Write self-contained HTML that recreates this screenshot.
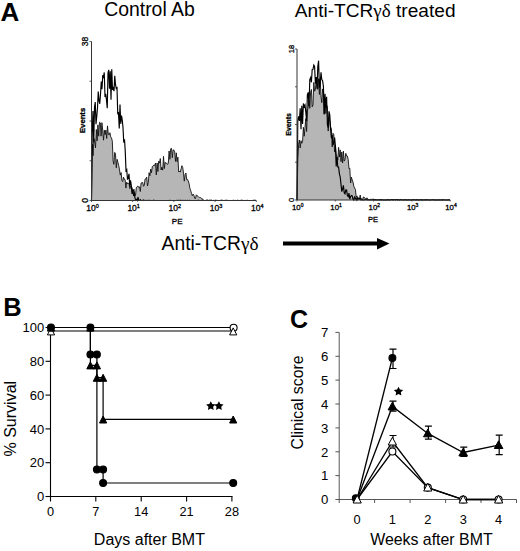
<!DOCTYPE html>
<html><head><meta charset="utf-8"><style>
html,body{margin:0;padding:0;background:#fff;}
svg{display:block;}
text{font-family:'Liberation Sans',sans-serif;fill:#000;}
.sm{stroke:#000;stroke-width:0.3px;}
</style></head><body>
<svg width="520" height="551" viewBox="0 0 520 551">

<text x="0.5" y="20.8" font-size="26" font-weight="bold">A</text>
<text x="3.3" y="315.9" font-size="25.5" font-weight="bold">B</text>
<text x="290" y="328.2" font-size="25" font-weight="bold">C</text>
<text x="104.2" y="15.9" font-size="19.4">Control Ab</text>
<text x="294.8" y="16.9" font-size="19.1">Anti-TCR<tspan font-family="Liberation Serif">γδ</tspan> treated</text>
<path d="M91.50,200.50 L91.50,200.16 L92.30,144.25 L93.10,155.60 L93.90,138.36 L94.70,141.13 L95.50,147.85 L96.30,129.45 L97.10,140.89 L97.90,124.86 L98.70,136.20 L99.50,122.19 L100.30,122.82 L101.10,136.14 L101.90,122.66 L102.70,130.16 L103.50,140.19 L104.30,130.20 L105.10,134.66 L105.90,130.07 L106.70,138.52 L107.50,125.87 L108.30,134.32 L109.10,134.97 L109.90,132.73 L110.70,136.90 L111.50,137.92 L112.30,141.14 L113.10,160.90 L113.90,164.32 L114.70,152.40 L115.50,154.10 L116.30,167.80 L117.10,159.33 L117.90,162.34 L118.70,165.45 L119.50,169.87 L120.30,175.14 L121.10,172.57 L121.90,180.35 L122.70,181.56 L123.50,177.12 L124.30,179.43 L125.10,179.64 L125.90,188.08 L126.70,182.20 L127.50,183.74 L128.30,182.92 L129.10,184.00 L129.90,188.74 L130.70,185.98 L131.50,186.60 L132.30,188.43 L133.10,191.83 L133.90,189.17 L134.70,193.78 L135.50,195.50 L136.30,187.80 L137.10,186.69 L137.90,185.96 L138.70,187.47 L139.50,186.86 L140.30,191.52 L141.10,182.98 L141.90,182.69 L142.70,182.36 L143.50,186.25 L144.30,185.12 L145.10,179.01 L145.90,178.94 L146.70,177.09 L147.50,185.98 L148.30,182.46 L149.10,172.68 L149.90,175.82 L150.70,169.00 L151.50,172.80 L152.30,166.59 L153.10,166.17 L153.90,165.00 L154.70,165.50 L155.50,163.08 L156.30,174.91 L157.10,162.98 L157.90,171.50 L158.70,161.17 L159.50,163.15 L160.30,158.57 L161.10,170.01 L161.90,167.10 L162.70,170.11 L163.50,156.36 L164.30,168.57 L165.10,162.17 L165.90,163.28 L166.70,163.17 L167.50,164.49 L168.30,163.26 L169.10,150.98 L169.90,159.30 L170.70,148.76 L171.50,148.45 L172.30,157.67 L173.10,149.85 L173.90,150.14 L174.70,151.88 L175.50,161.41 L176.30,152.83 L177.10,161.69 L177.90,157.17 L178.70,172.03 L179.50,171.10 L180.30,172.12 L181.10,168.76 L181.90,165.68 L182.70,167.39 L183.50,173.10 L184.30,181.17 L185.10,174.49 L185.90,172.99 L186.70,179.65 L187.50,179.39 L188.30,181.07 L189.10,183.70 L189.90,188.30 L190.70,190.62 L191.50,193.43 L192.30,195.69 L193.10,194.12 L193.90,195.34 L194.70,198.37 L195.50,198.58 L196.30,194.79 L197.10,195.61 L197.90,196.24 L198.70,197.20 L199.50,197.46 L200.30,197.60 L201.10,197.88 L201.90,198.82 L202.70,199.06 L203.50,200.50 L204.30,200.50 L205.10,200.50 L205.90,200.50 L206.70,199.89 L207.50,199.94 L208.30,200.50 L209.10,200.12 L209.90,200.24 L210.70,200.50 L211.50,200.26 L212.30,200.50 L213.10,200.50 L213.90,200.27 L214.70,200.50 L215.50,200.40 L216.30,200.50 L217.10,200.50 L217.90,200.50 L218.70,200.50 L219.50,200.50 L220.30,200.39 L221.10,200.50 L221.90,200.30 L222.70,200.45 L223.50,200.50 L224.30,200.50 L225.10,200.34 L225.90,200.50 L226.70,200.34 L227.50,200.50 L228.30,200.50 L229.10,200.43 L229.90,200.50 L230.70,200.50 L231.50,200.49 L232.30,200.50 L233.10,200.50 L233.90,200.50 L234.70,200.50 L235.50,200.38 L236.30,200.50 L237.10,200.50 L237.90,200.34 L238.70,200.50 L239.50,200.50 L240.30,200.34 L241.10,200.50 L241.90,200.30 L242.70,200.24 L243.50,200.47 L244.30,200.50 L245.10,200.50 L245.90,200.28 L246.70,200.50 L247.50,200.50 L248.30,200.50 L249.10,200.50 L249.90,200.50 L250.70,200.50 L251.50,200.50 L252.30,200.50 L253.10,200.50 L253.90,200.41 L254.70,200.39 L255.50,200.24 L256.00,200.50" fill="#b6b6b6" stroke="none"/>
<path d="M91.50,200.50 L91.50,200.16 L92.30,144.25 L93.10,155.60 L93.90,138.36 L94.70,141.13 L95.50,147.85 L96.30,129.45 L97.10,140.89 L97.90,124.86 L98.70,136.20 L99.50,122.19 L100.30,122.82 L101.10,136.14 L101.90,122.66 L102.70,130.16 L103.50,140.19 L104.30,130.20 L105.10,134.66 L105.90,130.07 L106.70,138.52 L107.50,125.87 L108.30,134.32 L109.10,134.97 L109.90,132.73 L110.70,136.90 L111.50,137.92 L112.30,141.14 L113.10,160.90 L113.90,164.32 L114.70,152.40 L115.50,154.10 L116.30,167.80 L117.10,159.33 L117.90,162.34 L118.70,165.45 L119.50,169.87 L120.30,175.14 L121.10,172.57 L121.90,180.35 L122.70,181.56 L123.50,177.12 L124.30,179.43 L125.10,179.64 L125.90,188.08 L126.70,182.20 L127.50,183.74 L128.30,182.92 L129.10,184.00 L129.90,188.74 L130.70,185.98 L131.50,186.60 L132.30,188.43 L133.10,191.83 L133.90,189.17 L134.70,193.78 L135.50,195.50 L136.30,187.80 L137.10,186.69 L137.90,185.96 L138.70,187.47 L139.50,186.86 L140.30,191.52 L141.10,182.98 L141.90,182.69 L142.70,182.36 L143.50,186.25 L144.30,185.12 L145.10,179.01 L145.90,178.94 L146.70,177.09 L147.50,185.98 L148.30,182.46 L149.10,172.68 L149.90,175.82 L150.70,169.00 L151.50,172.80 L152.30,166.59 L153.10,166.17 L153.90,165.00 L154.70,165.50 L155.50,163.08 L156.30,174.91 L157.10,162.98 L157.90,171.50 L158.70,161.17 L159.50,163.15 L160.30,158.57 L161.10,170.01 L161.90,167.10 L162.70,170.11 L163.50,156.36 L164.30,168.57 L165.10,162.17 L165.90,163.28 L166.70,163.17 L167.50,164.49 L168.30,163.26 L169.10,150.98 L169.90,159.30 L170.70,148.76 L171.50,148.45 L172.30,157.67 L173.10,149.85 L173.90,150.14 L174.70,151.88 L175.50,161.41 L176.30,152.83 L177.10,161.69 L177.90,157.17 L178.70,172.03 L179.50,171.10 L180.30,172.12 L181.10,168.76 L181.90,165.68 L182.70,167.39 L183.50,173.10 L184.30,181.17 L185.10,174.49 L185.90,172.99 L186.70,179.65 L187.50,179.39 L188.30,181.07 L189.10,183.70 L189.90,188.30 L190.70,190.62 L191.50,193.43 L192.30,195.69 L193.10,194.12 L193.90,195.34 L194.70,198.37 L195.50,198.58 L196.30,194.79 L197.10,195.61 L197.90,196.24 L198.70,197.20 L199.50,197.46 L200.30,197.60 L201.10,197.88 L201.90,198.82 L202.70,199.06 L203.50,200.50 L204.30,200.50 L205.10,200.50 L205.90,200.50 L206.70,199.89 L207.50,199.94 L208.30,200.50 L209.10,200.12 L209.90,200.24 L210.70,200.50 L211.50,200.26 L212.30,200.50 L213.10,200.50 L213.90,200.27 L214.70,200.50 L215.50,200.40 L216.30,200.50 L217.10,200.50 L217.90,200.50 L218.70,200.50 L219.50,200.50 L220.30,200.39 L221.10,200.50 L221.90,200.30 L222.70,200.45 L223.50,200.50 L224.30,200.50 L225.10,200.34 L225.90,200.50 L226.70,200.34 L227.50,200.50 L228.30,200.50 L229.10,200.43 L229.90,200.50 L230.70,200.50 L231.50,200.49 L232.30,200.50 L233.10,200.50 L233.90,200.50 L234.70,200.50 L235.50,200.38 L236.30,200.50 L237.10,200.50 L237.90,200.34 L238.70,200.50 L239.50,200.50 L240.30,200.34 L241.10,200.50 L241.90,200.30 L242.70,200.24 L243.50,200.47 L244.30,200.50 L245.10,200.50 L245.90,200.28 L246.70,200.50 L247.50,200.50 L248.30,200.50 L249.10,200.50 L249.90,200.50 L250.70,200.50 L251.50,200.50 L252.30,200.50 L253.10,200.50 L253.90,200.41 L254.70,200.39 L255.50,200.24 L256.00,200.50" fill="none" stroke="#111" stroke-width="0.9"/>
<path d="M91.50,200.50 L91.50,200.50 L92.25,131.50 L93.00,110.93 L93.75,142.42 L94.50,107.05 L95.25,102.05 L96.00,124.32 L96.75,116.40 L97.50,107.90 L98.25,91.51 L99.00,100.62 L99.75,103.78 L100.50,94.16 L101.25,81.46 L102.00,89.15 L102.75,75.00 L103.50,76.81 L104.25,72.47 L105.00,97.01 L105.75,93.70 L106.50,100.22 L107.25,108.22 L108.00,72.90 L108.75,69.84 L109.50,88.75 L110.25,71.17 L111.00,99.68 L111.75,69.21 L112.50,89.86 L113.25,88.06 L114.00,91.10 L114.75,75.80 L115.50,84.72 L116.25,88.42 L117.00,87.72 L117.75,113.60 L118.50,113.00 L119.25,128.45 L120.00,104.41 L120.75,123.85 L121.50,115.59 L122.25,120.04 L123.00,127.59 L123.75,142.53 L124.50,139.27 L125.25,151.35 L126.00,170.82 L126.75,169.73 L127.50,179.60 L128.25,177.49 L129.00,173.75 L129.75,186.49 L130.50,180.28 L131.25,185.06 L132.00,193.95 L132.75,189.77 L133.50,194.60 L134.25,193.12 L135.00,198.13 L135.75,200.19 L136.50,199.39 L137.25,200.50 L138.00,197.11 L138.75,200.50 L139.50,200.50 L140.25,199.58 L141.00,200.50 L141.75,200.50 L142.50,200.50 L143.25,199.98 L144.00,200.50 L144.75,200.36 L145.50,200.50 L146.25,200.50 L147.00,200.27 L147.75,200.50 L148.50,200.44 L149.25,200.50 L150.00,200.38 L150.75,200.50 L151.50,200.50 L152.25,200.50 L153.00,200.50 L153.75,200.23 L154.50,200.50 L155.25,200.50 L156.00,200.50 L156.75,200.48 L157.50,200.50 L158.25,200.50 L159.00,200.48 L159.75,200.50 L160.50,200.50 L161.25,200.50 L162.00,200.50 L162.75,200.50 L163.50,200.50 L164.25,200.50 L165.00,200.50 L165.75,200.50 L166.50,200.50 L167.25,200.50 L168.00,200.50 L168.75,200.50 L169.50,200.31 L170.25,200.44 L171.00,200.50 L171.75,200.50 L172.50,200.50 L173.25,200.50 L174.00,200.50 L174.75,200.50 L175.50,200.50 L176.25,200.50 L177.00,200.28 L177.75,200.50 L178.50,200.41 L179.25,200.50 L180.00,200.30 L180.75,200.31 L181.50,200.50 L182.25,200.50 L183.00,200.27 L183.75,200.50 L184.50,200.50 L185.25,200.24 L186.00,200.50 L186.75,200.50 L187.50,200.38 L188.25,200.50 L189.00,200.48 L189.75,200.25 L190.50,200.50 L191.25,200.50 L192.00,200.49 L192.75,200.50 L193.50,200.50 L194.25,200.50 L195.00,200.50 L195.75,200.50 L196.50,200.50 L197.25,200.50 L198.00,200.30 L198.75,200.26 L199.50,200.50 L200.25,200.50 L201.00,200.50 L201.75,200.44 L202.50,200.50 L203.25,200.29 L204.00,200.50 L204.75,200.50 L205.50,200.50 L206.25,200.50 L207.00,200.50 L207.75,200.50 L208.50,200.50 L209.25,200.50 L210.00,200.31 L210.75,200.44 L211.50,200.29 L212.25,200.50 L213.00,200.50 L213.75,200.50 L214.50,200.50 L215.25,200.26 L216.00,200.50 L216.75,200.45 L217.50,200.50 L218.25,200.50 L219.00,200.50 L219.75,200.50 L220.50,200.50 L221.25,200.25 L222.00,200.23 L222.75,200.50 L223.50,200.50 L224.25,200.50 L225.00,200.50 L225.75,200.41 L226.50,200.50 L227.25,200.45 L228.00,200.50 L228.75,200.50 L229.50,200.50 L230.25,200.50 L231.00,200.50 L231.75,200.50 L232.50,200.50 L233.25,200.33 L234.00,200.44 L234.75,200.50 L235.50,200.46 L236.25,200.50 L237.00,200.50 L237.75,200.41 L238.50,200.50 L239.25,200.48 L240.00,200.50 L240.75,200.50 L241.50,200.29 L242.25,200.50 L243.00,200.50 L243.75,200.50 L244.50,200.50 L245.25,200.50 L246.00,200.50 L246.75,200.50 L247.50,200.42 L248.25,200.50 L249.00,200.47 L249.75,200.50 L250.50,200.50 L251.25,200.50 L252.00,200.50 L252.75,200.50 L253.50,200.42 L254.25,200.33 L255.00,200.50 L255.75,200.50 L256.00,200.50" fill="none" stroke="#000" stroke-width="1.15"/>
<path d="M91.5,41.5 V200.5 H256.3" fill="none" stroke="#333" stroke-width="1"/>
<path d="M89.5,41.5 H91.5" stroke="#333" stroke-width="0.8"/>
<path d="M89.5,81.2 H91.5" stroke="#333" stroke-width="0.8"/>
<path d="M89.5,121.0 H91.5" stroke="#333" stroke-width="0.8"/>
<path d="M89.5,160.8 H91.5" stroke="#333" stroke-width="0.8"/>
<path d="M89.5,200.5 H91.5" stroke="#333" stroke-width="0.8"/>
<path d="M91.5,200.5 V202.0" stroke="#333" stroke-width="0.8"/>
<path d="M132.7,200.5 V202.0" stroke="#333" stroke-width="0.8"/>
<path d="M173.9,200.5 V202.0" stroke="#333" stroke-width="0.8"/>
<path d="M215.1,200.5 V202.0" stroke="#333" stroke-width="0.8"/>
<path d="M256.3,200.5 V202.0" stroke="#333" stroke-width="0.8"/>
<path d="M297.00,200.00 L297.00,200.00 L297.80,159.34 L298.60,144.31 L299.40,139.98 L300.20,147.99 L301.00,140.70 L301.80,143.32 L302.60,141.22 L303.40,127.23 L304.20,136.22 L305.00,127.30 L305.80,118.55 L306.60,131.53 L307.40,111.13 L308.20,106.81 L309.00,100.29 L309.80,108.29 L310.60,92.18 L311.40,89.43 L312.20,106.86 L313.00,104.82 L313.80,82.40 L314.60,91.16 L315.40,89.62 L316.20,80.29 L317.00,79.52 L317.80,89.37 L318.60,78.75 L319.40,94.49 L320.20,78.91 L321.00,97.06 L321.80,102.66 L322.60,88.92 L323.40,93.12 L324.20,113.64 L325.00,99.94 L325.80,113.58 L326.60,104.93 L327.40,107.12 L328.20,131.03 L329.00,117.15 L329.80,121.29 L330.60,127.15 L331.40,128.61 L332.20,146.90 L333.00,133.27 L333.80,134.68 L334.60,152.09 L335.40,144.88 L336.20,153.80 L337.00,157.41 L337.80,160.17 L338.60,147.43 L339.40,157.03 L340.20,149.88 L341.00,161.65 L341.80,151.96 L342.60,162.96 L343.40,151.16 L344.20,161.06 L345.00,159.26 L345.80,153.38 L346.60,155.99 L347.40,156.07 L348.20,159.46 L349.00,168.71 L349.80,168.26 L350.60,183.03 L351.40,177.16 L352.20,179.90 L353.00,182.01 L353.80,186.20 L354.60,187.98 L355.40,189.38 L356.20,197.12 L357.00,195.89 L357.80,198.96 L358.60,197.72 L359.40,199.36 L360.20,195.05 L361.00,200.00 L361.80,199.33 L362.60,199.99 L363.40,196.97 L364.20,197.38 L365.00,197.93 L365.80,200.00 L366.60,198.01 L367.40,198.12 L368.20,200.00 L369.00,199.12 L369.80,200.00 L370.60,199.19 L371.40,199.40 L372.20,199.31 L373.00,199.13 L373.80,199.34 L374.60,200.00 L375.40,200.00 L376.20,200.00 L377.00,200.00 L377.80,199.56 L378.60,199.53 L379.40,200.00 L380.20,200.00 L381.00,199.70 L381.80,200.00 L382.60,199.55 L383.40,200.00 L384.20,200.00 L385.00,199.70 L385.80,200.00 L386.60,200.00 L387.40,200.00 L388.20,200.00 L389.00,200.00 L389.80,199.81 L390.60,199.59 L391.40,199.60 L392.20,199.60 L393.00,199.73 L393.80,199.76 L394.60,199.50 L395.40,199.59 L396.20,199.49 L397.00,200.00 L397.80,200.00 L398.60,200.00 L399.40,200.00 L400.20,199.51 L401.00,200.00 L401.80,199.83 L402.60,199.69 L403.40,200.00 L404.20,200.00 L405.00,200.00 L405.80,199.57 L406.60,200.00 L407.40,200.00 L408.20,199.59 L409.00,200.00 L409.80,199.63 L410.60,200.00 L411.40,200.00 L412.20,199.61 L413.00,200.00 L413.80,200.00 L414.60,200.00 L415.40,200.00 L416.20,200.00 L417.00,199.61 L417.80,199.74 L418.60,200.00 L419.40,200.00 L420.20,199.61 L421.00,199.60 L421.80,199.93 L422.60,200.00 L423.40,199.93 L424.20,199.92 L425.00,200.00 L425.80,199.62 L426.60,200.00 L427.40,199.64 L428.20,199.63 L429.00,199.92 L429.80,200.00 L430.60,200.00 L431.40,200.00 L432.20,199.91 L433.00,200.00 L433.80,199.98 L434.60,200.00 L435.40,200.00 L436.20,199.94 L437.00,200.00 L437.80,200.00 L438.60,199.82 L439.40,200.00 L440.20,199.75 L441.00,199.83 L441.80,200.00 L442.60,200.00 L443.40,199.77 L444.20,199.74 L445.00,199.96 L445.80,200.00 L446.60,200.00 L447.40,199.94 L448.20,199.91 L449.00,199.74 L449.80,200.00 L450.00,200.00" fill="#b6b6b6" stroke="none"/>
<path d="M297.00,200.00 L297.00,200.00 L297.80,159.34 L298.60,144.31 L299.40,139.98 L300.20,147.99 L301.00,140.70 L301.80,143.32 L302.60,141.22 L303.40,127.23 L304.20,136.22 L305.00,127.30 L305.80,118.55 L306.60,131.53 L307.40,111.13 L308.20,106.81 L309.00,100.29 L309.80,108.29 L310.60,92.18 L311.40,89.43 L312.20,106.86 L313.00,104.82 L313.80,82.40 L314.60,91.16 L315.40,89.62 L316.20,80.29 L317.00,79.52 L317.80,89.37 L318.60,78.75 L319.40,94.49 L320.20,78.91 L321.00,97.06 L321.80,102.66 L322.60,88.92 L323.40,93.12 L324.20,113.64 L325.00,99.94 L325.80,113.58 L326.60,104.93 L327.40,107.12 L328.20,131.03 L329.00,117.15 L329.80,121.29 L330.60,127.15 L331.40,128.61 L332.20,146.90 L333.00,133.27 L333.80,134.68 L334.60,152.09 L335.40,144.88 L336.20,153.80 L337.00,157.41 L337.80,160.17 L338.60,147.43 L339.40,157.03 L340.20,149.88 L341.00,161.65 L341.80,151.96 L342.60,162.96 L343.40,151.16 L344.20,161.06 L345.00,159.26 L345.80,153.38 L346.60,155.99 L347.40,156.07 L348.20,159.46 L349.00,168.71 L349.80,168.26 L350.60,183.03 L351.40,177.16 L352.20,179.90 L353.00,182.01 L353.80,186.20 L354.60,187.98 L355.40,189.38 L356.20,197.12 L357.00,195.89 L357.80,198.96 L358.60,197.72 L359.40,199.36 L360.20,195.05 L361.00,200.00 L361.80,199.33 L362.60,199.99 L363.40,196.97 L364.20,197.38 L365.00,197.93 L365.80,200.00 L366.60,198.01 L367.40,198.12 L368.20,200.00 L369.00,199.12 L369.80,200.00 L370.60,199.19 L371.40,199.40 L372.20,199.31 L373.00,199.13 L373.80,199.34 L374.60,200.00 L375.40,200.00 L376.20,200.00 L377.00,200.00 L377.80,199.56 L378.60,199.53 L379.40,200.00 L380.20,200.00 L381.00,199.70 L381.80,200.00 L382.60,199.55 L383.40,200.00 L384.20,200.00 L385.00,199.70 L385.80,200.00 L386.60,200.00 L387.40,200.00 L388.20,200.00 L389.00,200.00 L389.80,199.81 L390.60,199.59 L391.40,199.60 L392.20,199.60 L393.00,199.73 L393.80,199.76 L394.60,199.50 L395.40,199.59 L396.20,199.49 L397.00,200.00 L397.80,200.00 L398.60,200.00 L399.40,200.00 L400.20,199.51 L401.00,200.00 L401.80,199.83 L402.60,199.69 L403.40,200.00 L404.20,200.00 L405.00,200.00 L405.80,199.57 L406.60,200.00 L407.40,200.00 L408.20,199.59 L409.00,200.00 L409.80,199.63 L410.60,200.00 L411.40,200.00 L412.20,199.61 L413.00,200.00 L413.80,200.00 L414.60,200.00 L415.40,200.00 L416.20,200.00 L417.00,199.61 L417.80,199.74 L418.60,200.00 L419.40,200.00 L420.20,199.61 L421.00,199.60 L421.80,199.93 L422.60,200.00 L423.40,199.93 L424.20,199.92 L425.00,200.00 L425.80,199.62 L426.60,200.00 L427.40,199.64 L428.20,199.63 L429.00,199.92 L429.80,200.00 L430.60,200.00 L431.40,200.00 L432.20,199.91 L433.00,200.00 L433.80,199.98 L434.60,200.00 L435.40,200.00 L436.20,199.94 L437.00,200.00 L437.80,200.00 L438.60,199.82 L439.40,200.00 L440.20,199.75 L441.00,199.83 L441.80,200.00 L442.60,200.00 L443.40,199.77 L444.20,199.74 L445.00,199.96 L445.80,200.00 L446.60,200.00 L447.40,199.94 L448.20,199.91 L449.00,199.74 L449.80,200.00 L450.00,200.00" fill="none" stroke="#111" stroke-width="0.9"/>
<path d="M297.00,200.00 L297.00,200.00 L297.80,120.51 L298.60,116.33 L299.40,120.88 L300.20,108.21 L301.00,129.11 L301.80,105.86 L302.60,123.89 L303.40,103.51 L304.20,106.52 L305.00,104.91 L305.80,112.31 L306.60,121.11 L307.40,94.67 L308.20,92.35 L309.00,106.14 L309.80,79.54 L310.60,77.63 L311.40,82.30 L312.20,69.39 L313.00,69.24 L313.80,65.15 L314.60,66.53 L315.40,83.75 L316.20,76.94 L317.00,88.68 L317.80,66.49 L318.60,60.65 L319.40,87.70 L320.20,82.93 L321.00,72.26 L321.80,79.48 L322.60,80.80 L323.40,86.28 L324.20,114.36 L325.00,93.69 L325.80,108.03 L326.60,96.77 L327.40,124.68 L328.20,127.49 L329.00,111.29 L329.80,115.14 L330.60,128.89 L331.40,138.13 L332.20,134.92 L333.00,145.19 L333.80,142.83 L334.60,137.48 L335.40,145.87 L336.20,166.40 L337.00,156.76 L337.80,167.07 L338.60,167.15 L339.40,173.87 L340.20,177.02 L341.00,184.34 L341.80,191.65 L342.60,188.86 L343.40,185.39 L344.20,192.82 L345.00,193.83 L345.80,189.89 L346.60,190.06 L347.40,195.56 L348.20,196.64 L349.00,193.19 L349.80,199.26 L350.60,196.56 L351.40,195.46 L352.20,195.80 L353.00,199.14 L353.80,200.00 L354.60,197.11 L355.40,198.14 L356.20,200.00 L357.00,198.01 L357.80,199.80 L358.60,198.39 L359.40,198.70 L360.20,198.52 L361.00,200.00 L361.80,198.95 L362.60,200.00 L363.40,200.00 L364.20,200.00 L365.00,199.67 L365.80,199.71 L366.60,199.60 L367.40,200.00 L368.20,200.00 L369.00,200.00 L369.80,200.00 L370.60,200.00 L371.40,200.00 L372.20,199.76 L373.00,200.00 L373.80,199.68 L374.60,199.59 L375.40,199.47 L376.20,199.72 L377.00,200.00 L377.80,200.00 L378.60,199.85 L379.40,200.00 L380.20,199.62 L381.00,199.66 L381.80,200.00 L382.60,199.78 L383.40,200.00 L384.20,200.00 L385.00,200.00 L385.80,200.00 L386.60,199.86 L387.40,199.72 L388.20,199.57 L389.00,199.83 L389.80,200.00 L390.60,200.00 L391.40,199.66 L392.20,199.63 L393.00,200.00 L393.80,199.56 L394.60,199.73 L395.40,200.00 L396.20,199.54 L397.00,199.60 L397.80,199.73 L398.60,199.55 L399.40,200.00 L400.20,200.00 L401.00,199.57 L401.80,199.71 L402.60,199.92 L403.40,200.00 L404.20,199.71 L405.00,199.63 L405.80,200.00 L406.60,199.77 L407.40,200.00 L408.20,199.87 L409.00,200.00 L409.80,199.88 L410.60,200.00 L411.40,199.97 L412.20,199.85 L413.00,199.73 L413.80,199.62 L414.60,199.80 L415.40,200.00 L416.20,199.64 L417.00,200.00 L417.80,199.89 L418.60,199.84 L419.40,200.00 L420.20,199.93 L421.00,200.00 L421.80,199.63 L422.60,199.90 L423.40,200.00 L424.20,199.85 L425.00,199.79 L425.80,199.92 L426.60,199.64 L427.40,200.00 L428.20,200.00 L429.00,200.00 L429.80,200.00 L430.60,200.00 L431.40,199.76 L432.20,199.75 L433.00,199.72 L433.80,199.67 L434.60,199.97 L435.40,200.00 L436.20,200.00 L437.00,199.78 L437.80,200.00 L438.60,199.97 L439.40,199.85 L440.20,200.00 L441.00,199.96 L441.80,200.00 L442.60,199.73 L443.40,200.00 L444.20,200.00 L445.00,200.00 L445.80,200.00 L446.60,200.00 L447.40,200.00 L448.20,199.94 L449.00,199.76 L449.80,200.00 L450.00,200.00" fill="none" stroke="#000" stroke-width="1.15"/>
<path d="M297,49 V200 H450.2" fill="none" stroke="#333" stroke-width="1"/>
<path d="M295,49.0 H297" stroke="#333" stroke-width="0.8"/>
<path d="M295,86.8 H297" stroke="#333" stroke-width="0.8"/>
<path d="M295,124.5 H297" stroke="#333" stroke-width="0.8"/>
<path d="M295,162.2 H297" stroke="#333" stroke-width="0.8"/>
<path d="M295,200.0 H297" stroke="#333" stroke-width="0.8"/>
<path d="M297.0,200 V201.5" stroke="#333" stroke-width="0.8"/>
<path d="M335.3,200 V201.5" stroke="#333" stroke-width="0.8"/>
<path d="M373.6,200 V201.5" stroke="#333" stroke-width="0.8"/>
<path d="M411.9,200 V201.5" stroke="#333" stroke-width="0.8"/>
<path d="M450.2,200 V201.5" stroke="#333" stroke-width="0.8"/>
<text transform="translate(87.8,41.5) rotate(-90)" font-size="8.5" text-anchor="middle"  class="sm">38</text>
<text transform="translate(85.3,120.4) rotate(-90)" font-size="7.7" text-anchor="middle" font-weight="bold" class="sm">Events</text>
<text transform="translate(87.8,200.5) rotate(-90)" font-size="8.5" text-anchor="middle"  class="sm">0</text>
<text x="86.2" y="210.8" font-size="8.5" class="sm">10<tspan dy="-3" font-size="5.5">0</tspan></text>
<text x="127.4" y="210.8" font-size="8.5" class="sm">10<tspan dy="-3" font-size="5.5">1</tspan></text>
<text x="168.6" y="210.8" font-size="8.5" class="sm">10<tspan dy="-3" font-size="5.5">2</tspan></text>
<text x="209.8" y="210.8" font-size="8.5" class="sm">10<tspan dy="-3" font-size="5.5">3</tspan></text>
<text x="251.0" y="210.8" font-size="8.5" class="sm">10<tspan dy="-3" font-size="5.5">4</tspan></text>
<text x="177.2" y="223.6" font-size="8" text-anchor="middle" class="sm">PE</text>
<text transform="translate(293.5,49) rotate(-90)" font-size="7.5" text-anchor="middle"  class="sm">18</text>
<text transform="translate(291.2,124.4) rotate(-90)" font-size="6.9" text-anchor="middle" font-weight="bold" class="sm">Events</text>
<text transform="translate(293.5,200) rotate(-90)" font-size="7.5" text-anchor="middle"  class="sm">0</text>
<text x="292.0" y="209.5" font-size="7.8" class="sm">10<tspan dy="-3" font-size="5">0</tspan></text>
<text x="330.3" y="209.5" font-size="7.8" class="sm">10<tspan dy="-3" font-size="5">1</tspan></text>
<text x="368.6" y="209.5" font-size="7.8" class="sm">10<tspan dy="-3" font-size="5">2</tspan></text>
<text x="406.9" y="209.5" font-size="7.8" class="sm">10<tspan dy="-3" font-size="5">3</tspan></text>
<text x="445.2" y="209.5" font-size="7.8" class="sm">10<tspan dy="-3" font-size="5">4</tspan></text>
<text x="373" y="222.2" font-size="7.5" text-anchor="middle" class="sm">PE</text>
<text x="161.6" y="249.7" font-size="19.3">Anti-TCR<tspan font-family="Liberation Serif">γδ</tspan></text>
<path d="M283,243.5 H378" stroke="#000" stroke-width="4"/>
<path d="M377,238 L389.5,243.5 L377,249.5 Z" fill="#000"/>
<path d="M50.5,326.5 V496.5 H232.5" fill="none" stroke="#000" stroke-width="1.1"/>
<path d="M45.5,496.5 H50.5" stroke="#000" stroke-width="1.1"/>
<text x="44.3" y="501.2" font-size="13" text-anchor="end">0</text>
<path d="M45.5,462.7 H50.5" stroke="#000" stroke-width="1.1"/>
<text x="44.3" y="467.4" font-size="13" text-anchor="end">20</text>
<path d="M45.5,428.9 H50.5" stroke="#000" stroke-width="1.1"/>
<text x="44.3" y="433.6" font-size="13" text-anchor="end">40</text>
<path d="M45.5,395.1 H50.5" stroke="#000" stroke-width="1.1"/>
<text x="44.3" y="399.8" font-size="13" text-anchor="end">60</text>
<path d="M45.5,361.3 H50.5" stroke="#000" stroke-width="1.1"/>
<text x="44.3" y="366.0" font-size="13" text-anchor="end">80</text>
<path d="M45.5,327.5 H50.5" stroke="#000" stroke-width="1.1"/>
<text x="44.3" y="332.2" font-size="13" text-anchor="end">100</text>
<path d="M50.5,496.5 V501.5" stroke="#000" stroke-width="1.1"/>
<text x="50.5" y="516.2" font-size="12.8" text-anchor="middle">0</text>
<path d="M95.8,496.5 V501.5" stroke="#000" stroke-width="1.1"/>
<text x="95.8" y="516.2" font-size="12.8" text-anchor="middle">7</text>
<path d="M141.2,496.5 V501.5" stroke="#000" stroke-width="1.1"/>
<text x="141.2" y="516.2" font-size="12.8" text-anchor="middle">14</text>
<path d="M186.6,496.5 V501.5" stroke="#000" stroke-width="1.1"/>
<text x="186.6" y="516.2" font-size="12.8" text-anchor="middle">21</text>
<path d="M231.9,496.5 V501.5" stroke="#000" stroke-width="1.1"/>
<text x="231.9" y="516.2" font-size="12.8" text-anchor="middle">28</text>
<text x="149.4" y="545.1" font-size="16" text-anchor="middle">Days after BMT</text>
<text transform="translate(15.8,418.7) rotate(-90)" font-size="16" text-anchor="middle" >% Survival</text>
<path d="M51.0,327.5 L233.2,327.5" fill="none" stroke="#000" stroke-width="1.2"/>
<path d="M51.0,331.0 L233.2,331.0" fill="none" stroke="#000" stroke-width="1.2"/>
<path d="M51.0,327.5 L90.4,327.5 L90.4,365.4 L96.9,365.4 L96.9,377.7 L103.1,377.7 L103.1,419.4 L233.2,419.4" fill="none" stroke="#000" stroke-width="1.2"/>
<path d="M51.0,327.5 L90.4,327.5 L90.4,354.5 L96.9,354.5 L96.9,469.5 L103.1,469.5 L103.1,483.0 L233.2,483.0" fill="none" stroke="#000" stroke-width="1.2"/>
<circle cx="233.6" cy="327.8" r="3.5" fill="#fff" stroke="#000" stroke-width="1.1"/>
<path d="M47.4,334.9 L51.0,327.9 L54.6,334.9 Z" fill="#fff" stroke="#000" stroke-width="1" stroke-linejoin="miter"/>
<path d="M229.6,334.9 L233.2,327.9 L236.8,334.9 Z" fill="#fff" stroke="#000" stroke-width="1" stroke-linejoin="miter"/>
<path d="M47.4,331.1 L51.0,324.1 L54.6,331.1 Z" fill="#000" stroke="#000" stroke-width="1" stroke-linejoin="miter"/>
<path d="M86.8,331.1 L90.4,324.1 L94.0,331.1 Z" fill="#000" stroke="#000" stroke-width="1" stroke-linejoin="miter"/>
<path d="M86.8,368.9 L90.4,361.9 L94.0,368.9 Z" fill="#000" stroke="#000" stroke-width="1" stroke-linejoin="miter"/>
<path d="M93.3,368.9 L96.9,361.9 L100.5,368.9 Z" fill="#000" stroke="#000" stroke-width="1" stroke-linejoin="miter"/>
<path d="M93.3,381.3 L96.9,374.3 L100.5,381.3 Z" fill="#000" stroke="#000" stroke-width="1" stroke-linejoin="miter"/>
<path d="M99.5,381.3 L103.1,374.3 L106.7,381.3 Z" fill="#000" stroke="#000" stroke-width="1" stroke-linejoin="miter"/>
<path d="M99.5,423.0 L103.1,416.0 L106.7,423.0 Z" fill="#000" stroke="#000" stroke-width="1" stroke-linejoin="miter"/>
<path d="M229.6,423.0 L233.2,416.0 L236.8,423.0 Z" fill="#000" stroke="#000" stroke-width="1" stroke-linejoin="miter"/>
<circle cx="51.0" cy="327.5" r="3.45" fill="#000" stroke="#000" stroke-width="1.1"/>
<circle cx="90.4" cy="327.5" r="3.45" fill="#000" stroke="#000" stroke-width="1.1"/>
<circle cx="90.4" cy="354.5" r="3.45" fill="#000" stroke="#000" stroke-width="1.1"/>
<circle cx="96.9" cy="354.5" r="3.45" fill="#000" stroke="#000" stroke-width="1.1"/>
<circle cx="96.9" cy="469.5" r="3.45" fill="#000" stroke="#000" stroke-width="1.1"/>
<circle cx="103.1" cy="469.5" r="3.45" fill="#000" stroke="#000" stroke-width="1.1"/>
<circle cx="103.1" cy="483.0" r="3.45" fill="#000" stroke="#000" stroke-width="1.1"/>
<circle cx="233.2" cy="483.0" r="3.45" fill="#000" stroke="#000" stroke-width="1.1"/>
<polygon points="210.80,401.20 212.24,404.12 215.46,404.59 213.13,406.86 213.68,410.06 210.80,408.55 207.92,410.06 208.47,406.86 206.14,404.59 209.36,404.12" fill="#000"/>
<polygon points="218.90,401.20 220.34,404.12 223.56,404.59 221.23,406.86 221.78,410.06 218.90,408.55 216.02,410.06 216.57,406.86 214.24,404.59 217.46,404.12" fill="#000"/>
<path d="M339.2,332.4 V499.5 H516.5" fill="none" stroke="#444" stroke-width="0.9"/>
<path d="M335.4,499.5 H339.2" stroke="#444" stroke-width="0.9"/>
<text x="324.6" y="504.2" font-size="13.2" text-anchor="middle">0</text>
<path d="M335.4,475.6 H339.2" stroke="#444" stroke-width="0.9"/>
<text x="324.6" y="480.3" font-size="13.2" text-anchor="middle">1</text>
<path d="M335.4,451.8 H339.2" stroke="#444" stroke-width="0.9"/>
<text x="324.6" y="456.5" font-size="13.2" text-anchor="middle">2</text>
<path d="M335.4,427.9 H339.2" stroke="#444" stroke-width="0.9"/>
<text x="324.6" y="432.6" font-size="13.2" text-anchor="middle">3</text>
<path d="M335.4,404.0 H339.2" stroke="#444" stroke-width="0.9"/>
<text x="324.6" y="408.7" font-size="13.2" text-anchor="middle">4</text>
<path d="M335.4,380.1 H339.2" stroke="#444" stroke-width="0.9"/>
<text x="324.6" y="384.8" font-size="13.2" text-anchor="middle">5</text>
<path d="M335.4,356.3 H339.2" stroke="#444" stroke-width="0.9"/>
<text x="324.6" y="361.0" font-size="13.2" text-anchor="middle">6</text>
<path d="M335.4,332.4 H339.2" stroke="#444" stroke-width="0.9"/>
<text x="324.6" y="337.1" font-size="13.2" text-anchor="middle">7</text>
<path d="M339.2,499.5 V503" stroke="#444" stroke-width="0.9"/>
<path d="M374.6,499.5 V503" stroke="#444" stroke-width="0.9"/>
<path d="M410.1,499.5 V503" stroke="#444" stroke-width="0.9"/>
<path d="M445.6,499.5 V503" stroke="#444" stroke-width="0.9"/>
<path d="M481.0,499.5 V503" stroke="#444" stroke-width="0.9"/>
<path d="M516.5,499.5 V503" stroke="#444" stroke-width="0.9"/>
<text x="357.0" y="524" font-size="12.8" text-anchor="middle">0</text>
<text x="392.4" y="524" font-size="12.8" text-anchor="middle">1</text>
<text x="427.8" y="524" font-size="12.8" text-anchor="middle">2</text>
<text x="463.2" y="524" font-size="12.8" text-anchor="middle">3</text>
<text x="498.6" y="524" font-size="12.8" text-anchor="middle">4</text>
<text x="431.4" y="545.1" font-size="15.9" text-anchor="middle">Weeks after BMT</text>
<text transform="translate(303,402.5) rotate(-90)" font-size="15.8" text-anchor="middle" >Clinical score</text>
<path d="M357.0,499.5 L392.4,451.5 L427.8,487.6 L463.2,499.5 L498.6,499.5" fill="none" stroke="#000" stroke-width="1.3"/>
<path d="M357.0,499.5 L392.4,441.5 L427.8,487.6 L463.2,499.5 L498.6,499.5" fill="none" stroke="#000" stroke-width="1.3"/>
<path d="M357.0,499.5 L392.4,406.4 L427.8,433.4 L463.2,452.5 L498.6,445.1" fill="none" stroke="#000" stroke-width="1.3"/>
<path d="M357.0,499.5 L392.4,358.0" fill="none" stroke="#000" stroke-width="1.3"/>
<path d="M393.0,349.1 V368.5 M389.5,349.1 H396.5 M389.5,368.5 H396.5" stroke="#000" stroke-width="1.2" fill="none"/>
<path d="M393.0,401.2 V411.2 M389.5,401.2 H396.5 M389.5,411.2 H396.5" stroke="#000" stroke-width="1.2" fill="none"/>
<path d="M428.4,426.2 V439.1 M424.9,426.2 H431.9 M424.9,439.1 H431.9" stroke="#000" stroke-width="1.2" fill="none"/>
<path d="M463.8,447.2 V456.5 M460.3,447.2 H467.3 M460.3,456.5 H467.3" stroke="#000" stroke-width="1.2" fill="none"/>
<path d="M499.2,435.1 V454.6 M495.7,435.1 H502.7 M495.7,454.6 H502.7" stroke="#000" stroke-width="1.2" fill="none"/>
<path d="M393.0,435.5 V447.0 M389.5,435.5 H396.5 M389.5,447.0 H396.5" stroke="#000" stroke-width="1.2" fill="none"/>
<circle cx="355.8" cy="498.2" r="3.45" fill="#000" stroke="#000" stroke-width="1.1"/>
<path d="M353.1,503.0 L357.2,495.3 L361.3,503.0 Z" fill="#fff" stroke="#000" stroke-width="1" stroke-linejoin="miter"/>
<circle cx="392.4" cy="451.5" r="3.5" fill="#fff" stroke="#000" stroke-width="1.1"/>
<circle cx="427.8" cy="487.6" r="3.5" fill="#fff" stroke="#000" stroke-width="1.1"/>
<circle cx="463.2" cy="499.5" r="3.5" fill="#fff" stroke="#000" stroke-width="1.1"/>
<circle cx="498.6" cy="499.5" r="3.5" fill="#fff" stroke="#000" stroke-width="1.1"/>
<path d="M388.2,445.0 L392.4,437.3 L396.5,445.0 Z" fill="#fff" stroke="#000" stroke-width="1" stroke-linejoin="miter"/>
<path d="M423.7,491.0 L427.8,483.3 L431.9,491.0 Z" fill="#fff" stroke="#000" stroke-width="1" stroke-linejoin="miter"/>
<path d="M459.1,503.0 L463.2,495.3 L467.3,503.0 Z" fill="#fff" stroke="#000" stroke-width="1" stroke-linejoin="miter"/>
<path d="M494.5,503.0 L498.6,495.3 L502.8,503.0 Z" fill="#fff" stroke="#000" stroke-width="1" stroke-linejoin="miter"/>
<path d="M388.1,409.9 L392.4,402.2 L396.7,409.9 Z" fill="#000" stroke="#000" stroke-width="1" stroke-linejoin="miter"/>
<path d="M423.5,436.8 L427.8,429.1 L432.1,436.8 Z" fill="#000" stroke="#000" stroke-width="1" stroke-linejoin="miter"/>
<path d="M458.9,455.9 L463.2,448.2 L467.5,455.9 Z" fill="#000" stroke="#000" stroke-width="1" stroke-linejoin="miter"/>
<path d="M494.3,448.5 L498.6,440.8 L502.9,448.5 Z" fill="#000" stroke="#000" stroke-width="1" stroke-linejoin="miter"/>
<circle cx="392.4" cy="358.0" r="3.45" fill="#000" stroke="#000" stroke-width="1.1"/>
<polygon points="398.50,386.70 399.94,389.62 403.16,390.09 400.83,392.36 401.38,395.56 398.50,394.05 395.62,395.56 396.17,392.36 393.84,390.09 397.06,389.62" fill="#000"/>
</svg></body></html>
